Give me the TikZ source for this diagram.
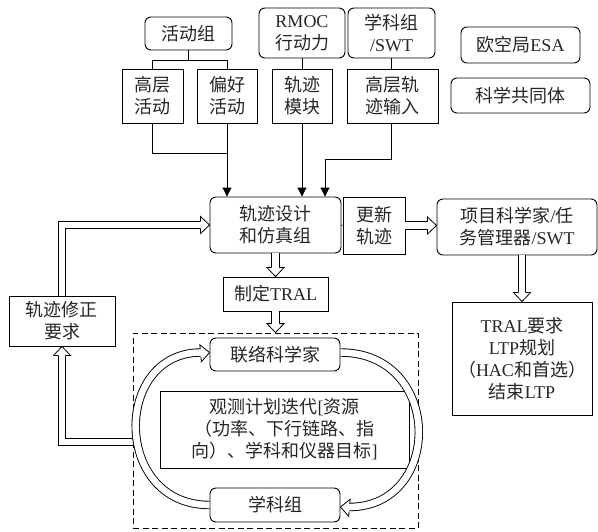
\documentclass[tikz,border=0pt]{standalone}
\usepackage{fontspec}
\setmainfont{Liberation Serif}
\newfontfamily\cjk{Noto Sans CJK SC}
\usetikzlibrary{arrows.meta,calc}
\newcommand{\lt}[1]{{\rmfamily #1}}
\newcommand{\dhead}[2]{\begin{scope}[shift={(#1)},rotate=#2]\draw[line width=0.8pt, fill=white, line join=miter] (-9pt,3.9pt) -- (-9pt,8.5pt) -- (0pt,0pt) -- (-9pt,-8.5pt) -- (-9pt,-3.9pt);\end{scope}}
\begin{document}
\begin{tikzpicture}[x=1pt,y=-1pt,
  every node/.style={font=\cjk\fontsize{18}{22}\selectfont, align=center, inner sep=0pt, line width=0.9pt, text=black!85},
  rbox/.style={draw=black, rounded corners=6pt},
  sbox/.style={draw=black},
  ln/.style={line width=0.9pt},
  farr/.style={ln, -{Triangle[length=9pt,width=9pt]}},
  dshaft/.style={draw=white, line width=6.6pt, shorten >=8.6pt,
     preaction={draw=black, line width=8.4pt, shorten >=8.6pt}},
]
\useasboundingbox (0,0) rectangle (598,531);
% top row
\node[rbox, minimum width=87, minimum height=33] (hd) at (188.5,33.5) {活动组};
\node[rbox, minimum width=86, minimum height=50] (rm) at (302,33) {\lt{RMOC}\\行动力};
\node[rbox, minimum width=87, minimum height=50] (xk) at (391.5,33) {学科组\\\lt{/SWT}};
\node[rbox, minimum width=119, minimum height=36] (esa) at (520.5,45) {欧空局\lt{ESA}};
\node[rbox, minimum width=139, minimum height=35] (kx) at (520.5,95.5) {科学共同体};
% second row
\node[sbox, minimum width=61, minimum height=54] (gc) at (152.5,96) {高层\\活动};
\node[sbox, minimum width=60, minimum height=54] (ph) at (227,96) {偏好\\活动};
\node[sbox, minimum width=60, minimum height=54] (gm) at (302,96) {轨迹\\模块};
\node[sbox, minimum width=91, minimum height=54] (gs) at (392.5,96) {高层轨\\迹输入};
% middle
\node[rbox, minimum width=131, minimum height=56] (sj) at (275.5,225) {轨迹设计\\和仿真组};
\node[sbox, minimum width=62, minimum height=57] (gx) at (374,225.5) {更新\\轨迹};
\node[rbox, minimum width=160, minimum height=56] (xm) at (517,227) {项目科学家\lt{/}任\\务管理器\lt{/SWT}};
\node[sbox, minimum width=105, minimum height=34] (tral) at (275.5,294) {制定\lt{TRAL}};
\node[sbox, minimum width=140, minimum height=113] (req) at (522,358.5) {\lt{TRAL}要求\\\lt{LTP}规划\\（\lt{HAC}和首选）\\结束\lt{LTP}};
\node[sbox, minimum width=106, minimum height=50] (xz) at (62,321) {轨迹修正\\要求};
% dashed group
\node[draw, dash pattern=on 6pt off 3.5pt, line width=0.8pt, minimum width=285, minimum height=195] (grp) at (275.5,430.5) {};
\node[rbox, minimum width=130, minimum height=33] (ll) at (275,354.5) {联络科学家};
\node[sbox, minimum width=249, minimum height=77] (obs) at (284.5,429.5) {观测计划迭代\lt{[}资源\\（功率、下行链路、指\\向）、学科和仪器目标\lt{]}};
\node[rbox, minimum width=130, minimum height=34] (xg) at (275,505) {学科组};
% tree connectors
\draw[ln] (hd.south) -- (hd.south |- 0,60);
\draw[ln] (gc.north) |- (ph.north |- 0,60) -- (ph.north);
\draw[ln] (gc.south) |- (ph.south |- 0,153);
\draw[farr] (ph.south) -- (ph.south |- sj.north);
\draw[ln] (rm.south) -- (gm.north);
\draw[farr] (gm.south) -- (gm.south |- sj.north);
\draw[ln] (xk.south) -- (xk.south |- gs.north);
\coordinate (c1) at (325,159);
\draw[farr] (xk.south |- gs.south) |- (c1) -- (c1 |- sj.north);
% middle connectors
\draw[ln] (sj.east) -- (gx.west);
\coordinate (e1) at (xm.west |- gx.east);
\path[dshaft] (gx.east) -- (e1); \dhead{e1}{0}
\path[dshaft] (sj.south) -- (tral.north); \dhead{tral.north}{-90}
\coordinate (e2) at (tral.south |- grp.north);
\path[dshaft] (tral.south) -- (e2); \dhead{e2}{-90}
\coordinate (s3) at (req.north |- xm.south);
\path[dshaft] (s3) -- (req.north); \dhead{req.north}{-90}
\path[dshaft] (xz.north) |- (sj.west); \dhead{sj.west}{0}
\coordinate (c2) at (grp.west |- 0,442);
\path[dshaft] (c2) -| (xz.south); \dhead{xz.south}{90}
% loop
\coordinate (l1) at ($(xg.west)+(0,0)$);
\coordinate (l2) at ($(ll.west)+(0,-2)$);
\coordinate (r1) at ($(ll.east)+(0,-2)$);
\coordinate (r2) at ($(xg.east)+(0,2)$);
\path[dshaft] (l1) .. controls +(-97,0) and +(-97,0) .. (l2); \dhead{l2}{5}
\path[dshaft] (r1) .. controls +(103,0) and +(103,0) .. (r2); \dhead{r2}{175}
\end{tikzpicture}
\end{document}
